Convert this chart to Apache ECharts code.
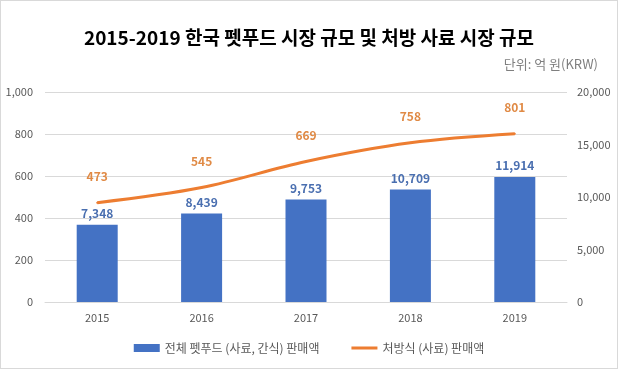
<!DOCTYPE html>
<html><head><meta charset="utf-8">
<script src="https://cdn.jsdelivr.net/npm/echarts@6/dist/echarts.min.js"></script>
<style>html,body{margin:0;padding:0;background:#fff}#c{width:618px;height:369px;box-sizing:border-box;border:1px solid #d9d9d9}</style>
</head><body><div id="c"></div>
<script>
const categories = ['2015','2016','2017','2018','2019'];
const totalSales = [7348, 8439, 9753, 10709, 11914];
const rxSales = [473, 545, 669, 758, 801];
const leftTicks = [0, 200, 400, 600, 800, 1000];
const rightTicks = [0, 5000, 10000, 15000, 20000];
const titleText = '2015-2019 한국 펫푸드 시장 규모 및 처방 사료 시장 규모';
const unitText = '단위: 억 원(KRW)';
const seriesNames = ['전체 펫푸드 (사료, 간식) 판매액', '처방식 (사료) 판매액'];

const font = '"Noto Sans CJK KR", "Noto Sans", sans-serif';
const chart = echarts.init(document.getElementById('c'));
const fmt = v => v.toLocaleString('en-US');
chart.setOption({
  animation: false,
  textStyle: { fontFamily: font },
  title: [
    { text: titleText, left: 'center', top: 22, textStyle: { fontFamily: font, fontSize: 19, fontWeight: 'bold', color: '#000' } },
    { text: unitText, right: 14, top: 52, textStyle: { fontFamily: font, fontSize: 13, fontWeight: 'normal', color: '#7f7f7f' } }
  ],
  legend: {
    bottom: 9, left: 'center', itemGap: 32, itemWidth: 26, itemHeight: 8,
    textStyle: { fontFamily: font, fontSize: 12, color: '#595959' },
    data: [
      { name: seriesNames[0], icon: 'rect' },
      { name: seriesNames[1], icon: 'path://M0,0h0.01v0.01h-0.01z M0,2.5h26v3h-26z M0,8h0.01v-0.01h-0.01z',
        itemStyle: { color: '#ED7D31', opacity: 1 } }
    ]
  },
  grid: { left: 44, right: 50, top: 91, bottom: 66 },
  xAxis: {
    type: 'category', data: categories,
    axisLine: { lineStyle: { color: '#d9d9d9' } },
    axisTick: { show: false },
    axisLabel: { color: '#595959', fontSize: 11, margin: 10 }
  },
  yAxis: [
    { type: 'value', min: 0, max: 1000, interval: 200,
      axisLabel: { color: '#595959', fontSize: 11, formatter: v => fmt(v), margin: 12 },
      splitLine: { lineStyle: { color: '#d9d9d9' } }, axisLine: { show: false }, axisTick: { show: false } },
    { type: 'value', min: 0, max: 20000, interval: 5000, position: 'right',
      axisLabel: { color: '#595959', fontSize: 11, formatter: v => fmt(v), margin: 10 },
      splitLine: { show: false }, axisLine: { show: false }, axisTick: { show: false } }
  ],
  series: [
    { name: seriesNames[0], type: 'bar', yAxisIndex: 1, data: totalSales, barWidth: 41,
      itemStyle: { color: '#4472C4' },
      label: { show: true, position: 'top', distance: 5, color: '#4a6fb0', fontSize: 12, fontWeight: 'bold', formatter: p => fmt(p.value) } },
    { name: seriesNames[1], type: 'line', yAxisIndex: 0, data: rxSales, smooth: 0.35,
      symbol: 'circle', symbolSize: 2, showSymbol: true,
      lineStyle: { color: '#ED7D31', width: 3 }, itemStyle: { color: '#ED7D31', borderWidth: 0 },
      label: { show: true, position: 'top', distance: 19, color: '#e08a45', fontSize: 12, fontWeight: 'bold', formatter: p => fmt(p.value) } }
  ]
});
</script></body></html>
